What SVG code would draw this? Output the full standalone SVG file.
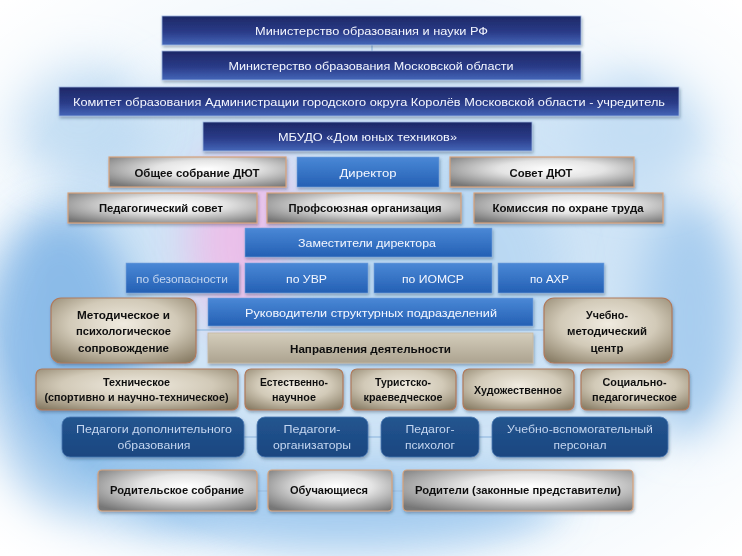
<svg xmlns="http://www.w3.org/2000/svg" width="742" height="556" viewBox="0 0 742 556">
<defs>
<linearGradient id="gNavy" x1="0" y1="0" x2="0" y2="1">
<stop offset="0" stop-color="#1d2866"/><stop offset="0.55" stop-color="#2a3b88"/><stop offset="1" stop-color="#4466b8"/>
</linearGradient>
<linearGradient id="gBlue" x1="0" y1="0" x2="0" y2="1">
<stop offset="0" stop-color="#4a88d6"/><stop offset="1" stop-color="#2460b4"/>
</linearGradient>
<radialGradient id="gSilver" cx="0.55" cy="0.4" r="0.72">
<stop offset="0" stop-color="#ffffff"/><stop offset="0.4" stop-color="#e4e4e4"/><stop offset="1" stop-color="#777777"/>
</radialGradient>
<radialGradient id="gTan" cx="0.5" cy="0.4" r="0.75">
<stop offset="0" stop-color="#f0ebe0"/><stop offset="0.5" stop-color="#d2cab8"/><stop offset="1" stop-color="#847860"/>
</radialGradient>
<linearGradient id="gTan2" x1="0" y1="0" x2="0" y2="1">
<stop offset="0" stop-color="#d4cdbb"/><stop offset="1" stop-color="#aca390"/>
</linearGradient>
<linearGradient id="gDBlue" x1="0" y1="0" x2="0" y2="1">
<stop offset="0" stop-color="#23558f"/><stop offset="1" stop-color="#1a4680"/>
</linearGradient>
<radialGradient id="vign" cx="0.5" cy="0.5" r="0.7">
<stop offset="0.72" stop-color="#ffffff" stop-opacity="0"/><stop offset="1" stop-color="#ffffff" stop-opacity="1"/>
</radialGradient>
<filter id="blur" x="-50%" y="-50%" width="200%" height="200%"><feGaussianBlur stdDeviation="22"/></filter>
<filter id="sh" x="-10%" y="-20%" width="120%" height="150%"><feDropShadow dx="1" dy="2" stdDeviation="1.5" flood-color="#203050" flood-opacity="0.35"/></filter>
<style>
.navy{fill:url(#gNavy);stroke:#9cb6e2;stroke-width:0.8}
.blue{fill:url(#gBlue);stroke:#7aa4dc;stroke-width:0.6}
.silver{fill:url(#gSilver);stroke:#d6a27c;stroke-width:1.2}
.tan{fill:url(#gTan);stroke:#b07a5c;stroke-width:1.2}
.tan2{fill:url(#gTan2);stroke:#c8b8a0;stroke-width:0.8}
.dblue{fill:url(#gDBlue);stroke:#4a78b4;stroke-width:0.8}
.tw{fill:#f4f7ff;font-family:"Liberation Sans",sans-serif;font-size:11px;text-anchor:middle}
.tl{fill:#c4d6f0;font-family:"Liberation Sans",sans-serif;font-size:11px;text-anchor:middle}
.tb{fill:#111111;font-family:"Liberation Sans",sans-serif;font-weight:bold;font-size:11px;text-anchor:middle}
.con{stroke:#9fc2e4;stroke-width:1.4;fill:none}
</style>
</defs>
<g id="background">
<rect width="742" height="556" fill="#f4f9fd"/>
<ellipse cx="370" cy="290" rx="340" ry="250" fill="#cfe4f6" filter="url(#blur)"/>
<ellipse cx="60" cy="360" rx="80" ry="150" fill="#7fb4e6" opacity="0.85" filter="url(#blur)"/>
<ellipse cx="130" cy="470" rx="110" ry="60" fill="#8ebfea" opacity="0.8" filter="url(#blur)"/>
<ellipse cx="80" cy="120" rx="70" ry="60" fill="#b2d4f0" opacity="0.7" filter="url(#blur)"/>
<ellipse cx="245" cy="240" rx="55" ry="90" fill="#eebce8" opacity="0.9" filter="url(#blur)"/>
<ellipse cx="420" cy="270" rx="140" ry="120" fill="#b6d6f2" opacity="0.8" filter="url(#blur)"/>
<ellipse cx="690" cy="320" rx="50" ry="120" fill="#a8cdef" filter="url(#blur)"/>
<ellipse cx="640" cy="130" rx="70" ry="60" fill="#c4def4" filter="url(#blur)"/>
<ellipse cx="340" cy="505" rx="220" ry="42" fill="#9cc7ee" opacity="0.85" filter="url(#blur)"/>
<rect width="742" height="556" fill="url(#vign)"/>
</g>
<g id="connectors">
<line class="con" x1="372" y1="45" x2="372" y2="51"/>
<line class="con" x1="196" y1="330" x2="544" y2="330"/>
<line class="con" x1="244" y1="437" x2="492" y2="437"/>
<line class="con" x1="257" y1="491" x2="403" y2="491"/>
</g>
<g filter="url(#sh)">
<g id="n_minobr_rf"><rect class="navy" x="162" y="16" width="419" height="29"/><text class="tw" x="371.5" y="34.5" textLength="233" lengthAdjust="spacingAndGlyphs">Министерство образования  и науки  РФ</text></g>
<g id="n_minobr_mo"><rect class="navy" x="162" y="51" width="419" height="29"/><text class="tw" x="371" y="70" textLength="285" lengthAdjust="spacingAndGlyphs">Министерство образования  Московской  области</text></g>
<g id="n_komitet"><rect class="navy" x="59" y="87" width="620" height="29"/><text class="tw" x="369" y="105.5" textLength="592" lengthAdjust="spacingAndGlyphs">Комитет образования  Администрации городского  округа Королёв Московской  области - учредитель</text></g>
<g id="n_mbudo"><rect class="navy" x="203" y="122" width="329" height="29"/><text class="tw" x="367.5" y="140.5" textLength="179" lengthAdjust="spacingAndGlyphs">МБУДО «Дом юных техников»</text></g>

<g id="n_obshee"><rect class="silver" x="109" y="157" width="177" height="30"/><text class="tb" x="197" y="176.5" textLength="125" lengthAdjust="spacingAndGlyphs">Общее собрание ДЮТ</text></g>
<g id="n_direktor"><rect class="blue" x="297" y="157" width="142" height="30"/><text class="tw" x="368" y="176.5" textLength="57" lengthAdjust="spacingAndGlyphs">Директор</text></g>
<g id="n_sovet"><rect class="silver" x="450" y="157" width="184" height="30"/><text class="tb" x="541" y="176.5" textLength="63" lengthAdjust="spacingAndGlyphs">Совет ДЮТ</text></g>

<g id="n_pedsovet"><rect class="silver" x="68" y="193" width="189" height="30"/><text class="tb" x="161" y="212" textLength="124" lengthAdjust="spacingAndGlyphs">Педагогический совет</text></g>
<g id="n_profsoyuz"><rect class="silver" x="267" y="193" width="194" height="30"/><text class="tb" x="365" y="212" textLength="153" lengthAdjust="spacingAndGlyphs">Профсоюзная организация</text></g>
<g id="n_komissiya"><rect class="silver" x="474" y="193" width="189" height="30"/><text class="tb" x="568" y="212" textLength="151" lengthAdjust="spacingAndGlyphs">Комиссия по охране труда</text></g>

<g id="n_zam"><rect class="blue" x="245" y="228" width="247" height="29"/><text class="tw" x="367" y="247" textLength="138" lengthAdjust="spacingAndGlyphs">Заместители директора</text></g>

<g id="n_bezop"><rect class="blue" x="126" y="263" width="113" height="30"/><text class="tl" x="182" y="282.5" textLength="92" lengthAdjust="spacingAndGlyphs">по безопасности</text></g>
<g id="n_uvr"><rect class="blue" x="245" y="263" width="123" height="30"/><text class="tw" x="306.5" y="282.5" textLength="41" lengthAdjust="spacingAndGlyphs">по УВР</text></g>
<g id="n_iomsr"><rect class="blue" x="374" y="263" width="118" height="30"/><text class="tw" x="433" y="282.5" textLength="62" lengthAdjust="spacingAndGlyphs">по ИОМСР</text></g>
<g id="n_ahr"><rect class="blue" x="498" y="263" width="106" height="30"/><text class="tw" x="549.5" y="282.5" textLength="39" lengthAdjust="spacingAndGlyphs">по АХР</text></g>

<g id="n_metod"><rect class="tan" x="51" y="298" width="145" height="65" rx="10"/>
<text class="tb" x="123.5" y="318.5" textLength="93" lengthAdjust="spacingAndGlyphs">Методическое и</text>
<text class="tb" x="123.5" y="335" textLength="95" lengthAdjust="spacingAndGlyphs">психологическое</text>
<text class="tb" x="123.5" y="351.5" textLength="91" lengthAdjust="spacingAndGlyphs">сопровождение</text></g>
<g id="n_rukov"><rect class="blue" x="208" y="298" width="325" height="28"/><text class="tw" x="371" y="317" textLength="252" lengthAdjust="spacingAndGlyphs">Руководители структурных  подразделений</text></g>
<g id="n_napr"><rect class="tan2" x="208" y="333" width="325" height="30"/><text class="tb" x="370.5" y="353" textLength="161" lengthAdjust="spacingAndGlyphs">Направления деятельности</text></g>
<g id="n_umc"><rect class="tan" x="544" y="298" width="128" height="65" rx="10"/>
<text class="tb" x="607" y="318.5" textLength="42" lengthAdjust="spacingAndGlyphs">Учебно-</text>
<text class="tb" x="607" y="335" textLength="80" lengthAdjust="spacingAndGlyphs">методический</text>
<text class="tb" x="607" y="351.5" textLength="33" lengthAdjust="spacingAndGlyphs">центр</text></g>

<g id="n_tech"><rect class="tan" x="36" y="369" width="202" height="41" rx="6"/>
<text class="tb" x="136.5" y="386" textLength="67" lengthAdjust="spacingAndGlyphs">Техническое</text>
<text class="tb" x="136.5" y="401" textLength="184" lengthAdjust="spacingAndGlyphs">(спортивно и научно-техническое)</text></g>
<g id="n_estest"><rect class="tan" x="245" y="369" width="98" height="41" rx="6"/>
<text class="tb" x="294" y="386" textLength="68" lengthAdjust="spacingAndGlyphs">Естественно-</text>
<text class="tb" x="294" y="401" textLength="44" lengthAdjust="spacingAndGlyphs">научное</text></g>
<g id="n_turist"><rect class="tan" x="351" y="369" width="105" height="41" rx="6"/>
<text class="tb" x="403" y="386" textLength="56" lengthAdjust="spacingAndGlyphs">Туристско-</text>
<text class="tb" x="403" y="401" textLength="79" lengthAdjust="spacingAndGlyphs">краеведческое</text></g>
<g id="n_hud"><rect class="tan" x="463" y="369" width="111" height="41" rx="6"/>
<text class="tb" x="518" y="393.5" textLength="88" lengthAdjust="spacingAndGlyphs">Художественное</text></g>
<g id="n_soc"><rect class="tan" x="581" y="369" width="108" height="41" rx="6"/>
<text class="tb" x="634.5" y="386" textLength="64" lengthAdjust="spacingAndGlyphs">Социально-</text>
<text class="tb" x="634.5" y="401" textLength="85" lengthAdjust="spacingAndGlyphs">педагогическое</text></g>

<g id="n_pdo"><rect class="dblue" x="62" y="417" width="182" height="40" rx="8"/>
<text class="tl" x="154" y="433" textLength="156" lengthAdjust="spacingAndGlyphs">Педагоги дополнительного</text>
<text class="tl" x="154" y="449" textLength="73" lengthAdjust="spacingAndGlyphs">образования</text></g>
<g id="n_porg"><rect class="dblue" x="257" y="417" width="111" height="40" rx="8"/>
<text class="tl" x="312" y="433" textLength="57" lengthAdjust="spacingAndGlyphs">Педагоги-</text>
<text class="tl" x="312" y="449" textLength="78" lengthAdjust="spacingAndGlyphs">организаторы</text></g>
<g id="n_psy"><rect class="dblue" x="381" y="417" width="98" height="40" rx="8"/>
<text class="tl" x="430" y="433" textLength="49" lengthAdjust="spacingAndGlyphs">Педагог-</text>
<text class="tl" x="430" y="449" textLength="50" lengthAdjust="spacingAndGlyphs">психолог</text></g>
<g id="n_uvp"><rect class="dblue" x="492" y="417" width="176" height="40" rx="8"/>
<text class="tl" x="580" y="433" textLength="146" lengthAdjust="spacingAndGlyphs">Учебно-вспомогательный</text>
<text class="tl" x="580" y="449" textLength="53" lengthAdjust="spacingAndGlyphs">персонал</text></g>

<g id="n_rodsobr"><rect class="silver" x="98" y="470" width="159" height="41" rx="4"/><text class="tb" x="177" y="493.5" textLength="134" lengthAdjust="spacingAndGlyphs">Родительское собрание</text></g>
<g id="n_obuch"><rect class="silver" x="268" y="470" width="124" height="41" rx="4"/><text class="tb" x="329" y="493.5" textLength="78" lengthAdjust="spacingAndGlyphs">Обучающиеся</text></g>
<g id="n_roditeli"><rect class="silver" x="403" y="470" width="230" height="41" rx="4"/><text class="tb" x="518" y="493.5" textLength="206" lengthAdjust="spacingAndGlyphs">Родители (законные представители)</text></g>
</g>
</svg>
